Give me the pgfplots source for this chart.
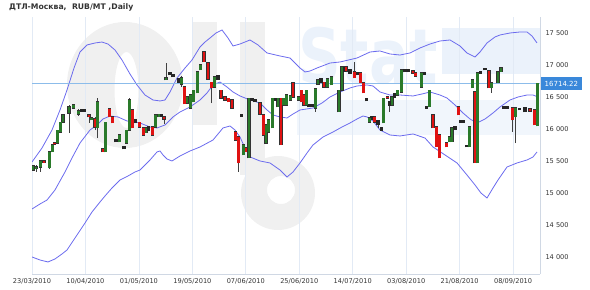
\documentclass[border=0pt]{standalone}
\usepackage{pgfplots}
\pgfplotsset{compat=1.18}
\usepackage{pgfplotstable}
\usepackage{fontspec}
\setmainfont{DejaVu Sans}
\definecolor{band}{HTML}{6B6BEE}
\definecolor{cgreen}{HTML}{2A7A2A}
\definecolor{cred}{HTML}{E01212}
\definecolor{gridc}{HTML}{E2EAF5}
\definecolor{axc}{HTML}{D0D8E4}
\definecolor{hline}{HTML}{8CBCEA}
\definecolor{tagc}{HTML}{3A88DA}
\definecolor{txt}{HTML}{333333}
\definecolor{wmgray}{HTML}{F0F0F0}
\definecolor{wmblue}{HTML}{EBF2FB}
\definecolor{wmblue2}{HTML}{F1F6FC}

\pgfplotstableread{
x bl bh lo hi
33 15359 15422 15344 15438
36 15375 15406 15328 15438
40.5 15406 15500 15328 15516
49.5 15391 15641 15375 15656
52.5 15641 15750 15641 15750
57.5 15781 15984 15781 15984
60.5 15953 16109 15953 16109
63 16109 16219 16109 16219
69 16250 16344 15938 16375
73.5 16328 16375 16328 16375
78.5 16234 16281 16203 16313
91.5 16141 16172 16141 16172
97.5 16016 16422 15859 16484
105.5 15641 16109 15641 16109
119.5 15797 15906 15797 15906
126.5 15781 15984 15781 15984
129.5 15984 16453 15984 16484
146 15938 16016 15938 16016
155.5 16031 16219 16031 16219
159 16188 16234 16188 16234
166 16766 16797 16766 17031
181.5 16703 16797 16656 16828
187 16406 16500 16406 16500
190.5 16328 16531 16328 16531
193.5 16422 16609 16422 16609
197.5 16563 16891 16563 16891
200.5 16922 17000 16922 17000
214.5 16656 16813 16656 16813
243.5 15594 15750 15594 15750
249 15547 16484 15547 16484
266 15781 16063 15781 16063
268.5 15953 16141 15953 16141
272.5 16016 16484 16016 16484
278 16344 16484 16344 16484
283.5 16375 16484 16375 16484
286.5 16375 16531 16375 16531
290.5 16453 16516 16453 16516
298.5 16453 16500 16453 16500
306.5 16375 16609 16375 16609
315.5 16328 16625 16266 16625
318 16703 16766 16703 16766
327.5 16656 16781 16656 16781
331.5 16688 16813 16688 16813
339 16266 16609 16266 16609
342 16609 16969 16609 16969
369.5 16109 16172 16109 16172
383.5 16094 16484 16094 16484
392 16375 16500 16375 16500
397.5 16531 16609 16531 16609
401.5 16578 16922 16578 16922
421.5 16656 16875 16656 16875
429.5 16344 16609 16344 16609
449.5 15797 15875 15797 15875
452 15797 16016 15797 16016
469.5 15719 16031 15719 16031
472.5 16641 16766 16641 16766
477.5 15469 16875 15469 16875
491.5 16641 16719 16563 16719
498 16719 16891 16719 16891
501 16891 16953 16891 16953
515.5 16188 16328 15781 16328
537.5 16047 16714 16047 16714
}\greentab

\pgfplotstableread{
x bl bh lo hi
44 15475 15500 15475 15500
54.5 15758 15781 15758 15781
89 16188 16219 16094 16219
95 16031 16156 15984 16188
103 15641 15688 15641 15688
109.5 16188 16313 16188 16313
112.5 16094 16188 16094 16188
132.5 16016 16297 16016 16297
139.5 16031 16109 16031 16109
143.5 15906 16016 15906 16016
152.5 15906 16031 15906 16031
164 16156 16188 16078 16188
184.5 16391 16656 16391 16656
204 17047 17203 17047 17203
208 16781 17031 16781 17031
211.5 16641 16734 16406 16734
221 16484 16609 16484 16609
225 16453 16500 16453 16500
228.5 16422 16484 16422 16484
232 16328 16453 16328 16453
235.5 15828 15953 15828 15953
238.5 15469 15875 15328 15875
246 15641 15703 15641 15703
260 16234 16406 16234 16406
263.5 15906 16219 15906 16219
281 15750 16484 15750 16484
293 16500 16719 16500 16719
301.5 16422 16609 16422 16609
304 16375 16531 16375 16531
324 16656 16734 16656 16734
346 16906 16969 16906 16969
354.5 16797 16891 16797 17047
360.5 16719 16875 16719 16875
363.5 16563 16719 16563 16719
374.5 16109 16188 16109 16188
387.5 16477 16500 16477 16500
413 16875 16906 16875 16906
415.5 16828 16875 16828 16875
433 16016 16219 16016 16219
436.5 15719 16031 15719 16031
439.5 15547 15906 15547 15906
446.5 15719 15781 15719 15781
458.5 16219 16344 16219 16344
475 15469 16578 15469 16578
489 16641 16906 16641 16906
512.5 16141 16328 15953 16328
530 16281 16313 16281 16313
534.5 16063 16297 16063 16297
}\redtab

\pgfplotstableread{
x bl bh lo hi
81.5 16281 16297 16281 16297
84.5 16281 16297 16281 16297
116 15797 15828 15797 15828
124 15688 15719 15688 15719
135.5 16094 16141 16094 16141
148.5 15984 16031 15984 16031
161.5 16203 16234 16203 16234
170 16844 16875 16844 16875
173 16813 16844 16813 16844
178.5 16734 16781 16734 16781
218 16781 16828 16781 16828
241.5 16203 16219 16203 16219
252 16438 16469 16438 16469
255 16422 16453 16422 16453
275.5 16453 16484 16453 16484
309 16344 16375 16344 16375
312 16344 16375 16344 16375
321 16719 16781 16719 16781
344 16891 16953 16891 16953
350 16875 16922 16875 16922
357.5 16844 16875 16844 16875
366.5 16438 16469 16438 16469
372 16141 16188 16141 16188
378 16063 16125 16016 16125
381.5 15984 16016 15984 16016
389.5 16375 16422 16266 16422
394.5 16500 16547 16500 16547
405 16891 16922 16891 16922
408.5 16891 16922 16891 16922
424.5 16844 16875 16844 16875
426.5 16328 16359 16328 16359
455 16000 16031 16000 16031
460.5 16109 16125 16109 16125
463.5 16109 16125 16109 16125
466.5 15719 15734 15719 15734
480.5 16875 16891 16875 16891
485 16922 16938 16922 16938
504 16328 16344 16328 16344
507.5 16328 16344 16328 16344
519.5 16297 16313 16297 16313
525 16266 16328 16266 16328
}\dojitab

\pgfplotstableread{
x y
32 15484
42 15703
52 15984
60 16297
67 16609
74 16953
80 17203
87 17313
95 17344
102 17359
108 17328
115 17234
122 17078
130 16859
137 16688
145 16531
153 16453
160 16438
165 16453
170 16578
177 16797
185 16953
192 17078
200 17281
205 17359
210 17422
216 17500
222 17547
228 17422
233 17297
240 17328
250 17391
258 17313
267 17188
280 17141
290 17109
300 16953
305 16891
310 16906
317 16953
330 17031
340 17047
357 17109
370 17203
380 17219
390 17172
400 17156
410 17188
420 17266
430 17328
440 17375
450 17391
460 17297
467 17188
475 17125
480 17203
487 17344
495 17438
500 17469
510 17500
520 17516
527 17516
532 17453
537 17344
}\uppertab

\pgfplotstableread{
x y
32 14750
40 14828
47 14890
55 15047
60 15188
65 15328
72 15547
80 15781
90 15984
97 16063
103 16156
110 16203
118 16188
127 16125
135 16109
140 16094
150 16031
157 16016
165 16063
173 16188
180 16266
190 16344
200 16453
207 16563
213 16688
220 16734
227 16656
233 16578
240 16516
250 16453
260 16406
267 16297
273 16219
280 16188
287 16172
293 16234
300 16297
313 16328
322 16406
330 16500
340 16578
350 16641
357 16672
367 16688
373 16672
380 16578
390 16531
400 16531
413 16516
422 16547
430 16578
440 16531
447 16484
455 16375
463 16250
470 16156
477 16094
485 16156
493 16250
500 16344
510 16453
518 16500
527 16531
533 16531
538 16500
}\middletab

\pgfplotstableread{
x y
32 14000
40 13953
48 13922
55 13969
62 14047
67 14109
75 14297
85 14531
92 14703
100 14859
105 14953
112 15078
120 15203
128 15266
135 15328
140 15359
150 15516
157 15641
160 15656
163 15594
167 15531
172 15500
180 15578
190 15656
200 15719
213 15828
223 16016
230 16047
235 15984
240 15875
245 15703
250 15563
260 15500
270 15469
280 15359
287 15250
293 15328
300 15469
307 15625
313 15750
323 15875
333 15953
342 16031
350 16094
357 16156
363 16203
367 16188
373 16125
380 15984
390 15906
400 15891
413 15922
425 15859
433 15719
445 15594
457 15469
467 15281
475 15125
481 14999
487 14922
493 15078
498 15203
507 15406
517 15469
527 15516
533 15563
537 15641
}\lowertab

\pgfplotsset{
  candle/.style 2 args={draw=none, no markers, forget plot,
    error bars/.cd, y dir=plus, y explicit, error mark=none,
    error bar style={draw=#1, line width=#2, line cap=butt, solid}},
}

\begin{document}
\begin{tikzpicture}[x=1bp,y=1bp]
% watermark (background logo)
\fill[wmblue2] (297,155) rectangle (540,190);
\fill[wmblue] (442,216) rectangle (540,262);
\node[anchor=south west, inner sep=0pt, text=wmblue, xscale=0.78,
  font=\bfseries\fontsize{76bp}{76bp}\selectfont] at (298,205) {Stat};
\fill[wmgray, even odd rule] (125,205) ellipse [x radius=58, y radius=63]
  (126.5,200) ellipse [x radius=12, y radius=38];
\fill[wmgray] (193,165) rectangle (217,268);
\fill[wmgray] (240,115) rectangle (265,268);
\fill[wmgray, even odd rule] (278,97) circle [radius=37] (281,100) circle [radius=14];
\begin{axis}[
  at={(32bp,16bp)}, anchor=south west,
  scale only axis, width=508bp, height=257bp,
  xmin=32, xmax=540, ymin=13734, ymax=17750,
  axis x line*=bottom, axis y line*=right,
  axis line style={draw=axc, line width=0.8bp},
  every inner x axis line/.append style={-},
  every inner y axis line/.append style={-},
  xtick={32,85.4,138.9,192.4,245.8,299.3,352.7,406.2,459.6,513.1},
  xticklabels={23/03/2010,10/04/2010,01/05/2010,19/05/2010,07/06/2010,25/06/2010,14/07/2010,03/08/2010,21/08/2010,08/09/2010},
  ytick={14000,14500,15000,15500,16000,16500,17000,17500},
  yticklabels={14 000,14 500,15 000,15 500,16 000,16 500,17 000,17 500},
  scaled y ticks=false, scaled x ticks=false,
  major tick length=0pt,
  xmajorgrids, ymajorgrids=false,
  major grid style={draw=gridc, line width=0.8bp},
  tick label style={font=\fontsize{6.6bp}{8bp}\selectfont, text=txt},
  xticklabel style={yshift=-1bp},
  yticklabel style={anchor=west, xshift=2bp},
  clip=true,
]
% Bollinger bands
\addplot[band, line width=0.8bp, no marks] table[x=x,y=y] {\uppertab};
\addplot[band, line width=0.8bp, no marks] table[x=x,y=y] {\middletab};
\addplot[band, line width=0.8bp, no marks] table[x=x,y=y] {\lowertab};
% last price line
\addplot[hline, line width=1.3bp, no marks] coordinates {(32,16714.22) (540,16714.22)};
% wicks
\addplot[candle={black!75}{0.6bp}]
  table[x=x, y=lo, y error plus expr=\thisrow{hi}-\thisrow{lo}] {\greentab};
\addplot[candle={black!75}{0.6bp}]
  table[x=x, y=lo, y error plus expr=\thisrow{hi}-\thisrow{lo}] {\redtab};
\addplot[candle={black!75}{0.6bp}]
  table[x=x, y=lo, y error plus expr=\thisrow{hi}-\thisrow{lo}] {\dojitab};
% body outlines
\addplot[candle={black!80}{3.4bp}]
  table[x=x, y expr=\thisrow{bl}-8, y error plus expr=\thisrow{bh}-\thisrow{bl}+16] {\greentab};
\addplot[candle={black!80}{3.4bp}]
  table[x=x, y expr=\thisrow{bl}-8, y error plus expr=\thisrow{bh}-\thisrow{bl}+16] {\redtab};
\addplot[candle={black!85}{3.4bp}]
  table[x=x, y expr=\thisrow{bl}-8, y error plus expr=\thisrow{bh}-\thisrow{bl}+16] {\dojitab};
% body fills
\addplot[candle={cgreen}{2.4bp}]
  table[x=x, y=bl, y error plus expr=\thisrow{bh}-\thisrow{bl}] {\greentab};
\addplot[candle={cred}{2.4bp}]
  table[x=x, y=bl, y error plus expr=\thisrow{bh}-\thisrow{bl}] {\redtab};
\end{axis}
\node[anchor=west, fill=tagc, text=white, inner xsep=4bp, inner ysep=0pt, minimum height=13bp,
  font=\fontsize{7bp}{8bp}\selectfont] at (540.5bp,206.5bp) {16714.22};
\node[anchor=west, inner sep=0pt, text=txt, font=\bfseries\fontsize{7.7bp}{9bp}\selectfont]
  at (9bp,283bp) {ДТЛ-Москва,\ \ RUB/MT ,Daily};
\pgfresetboundingbox
\path[use as bounding box] (0,0) rectangle (590bp,290bp);
\end{tikzpicture}
\end{document}
